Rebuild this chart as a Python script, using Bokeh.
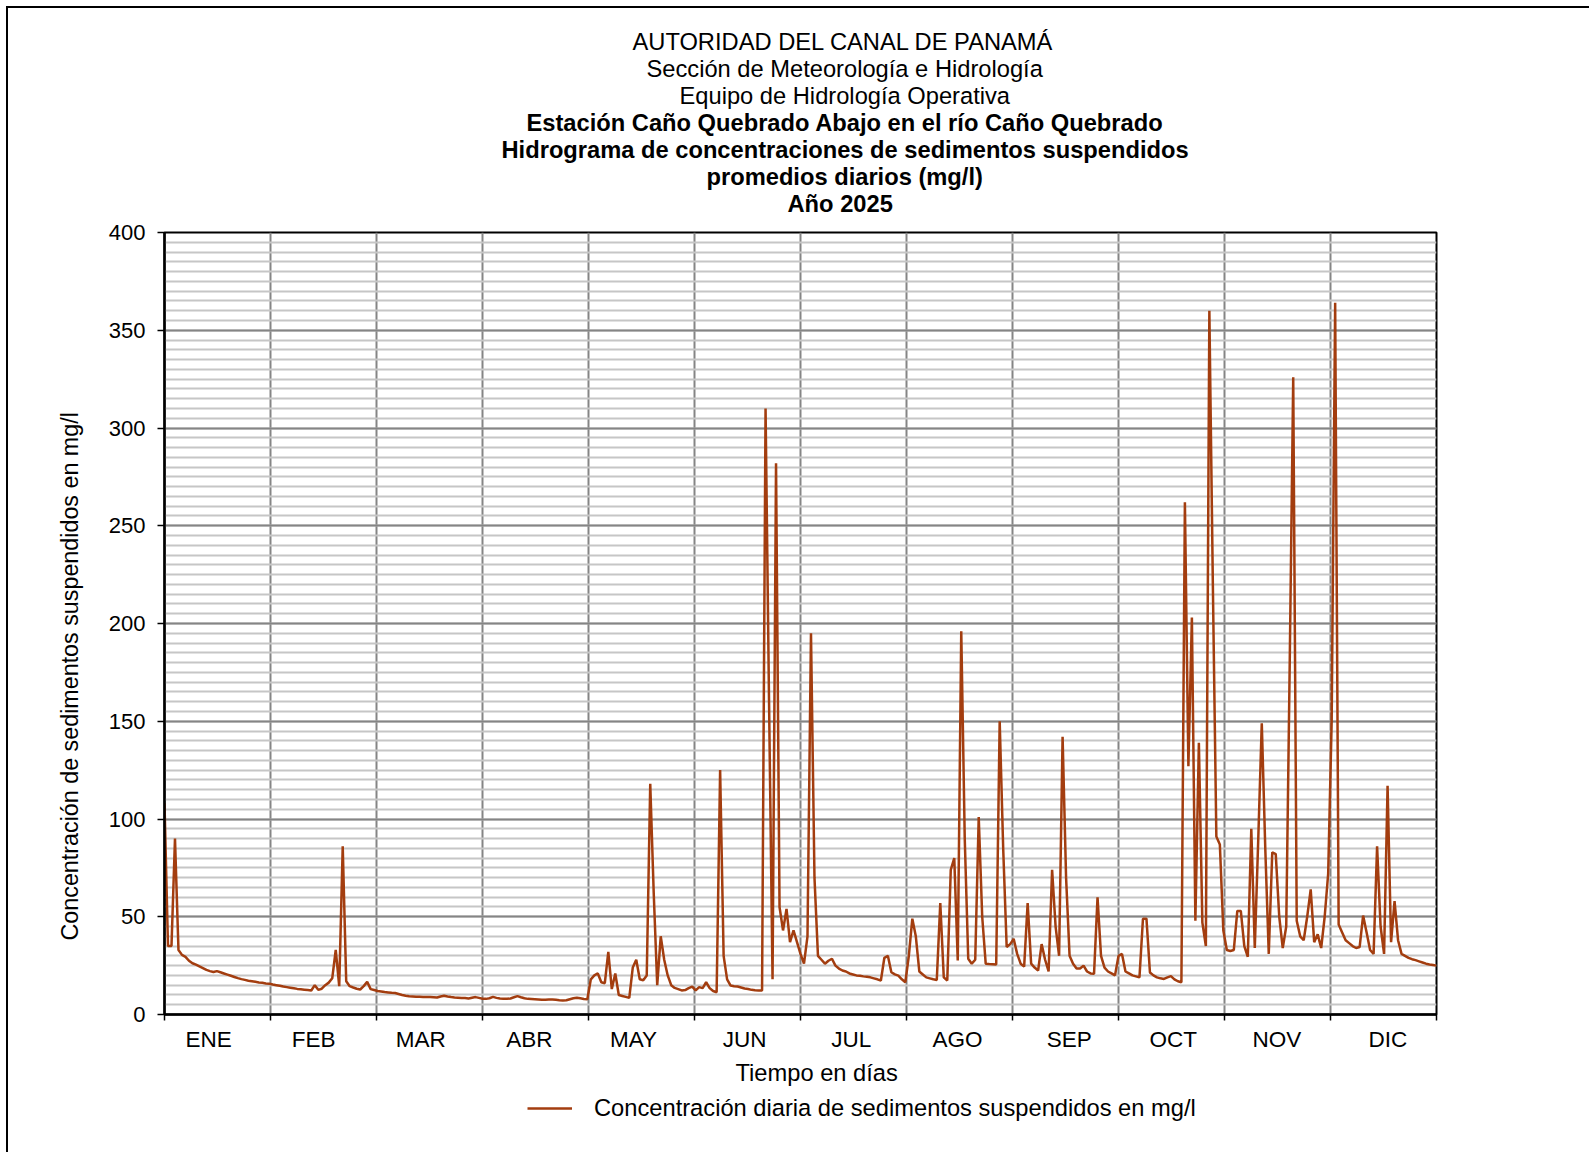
from bokeh.plotting import figure
from bokeh.models import Range1d, FixedTicker, Legend, LegendItem, Title
from bokeh.layouts import column
from bokeh.embed import file_html
from bokeh.resources import INLINE

# ---------------- data (daily suspended sediment, mg/l) ----------------
months = ["ENE", "FEB", "MAR", "ABR", "MAY", "JUN", "JUL", "AGO", "SEP", "OCT", "NOV", "DIC"]

ene = [108, 35, 35, 90, 33, 30.5, 29.5, 27.5, 26.2, 25.5, 24.6, 23.7, 22.8, 22.2, 21.7, 22.2,
       21.6, 21, 20.4, 19.8, 19.2, 18.6, 18.1, 17.7, 17.3, 17, 16.7, 16.4, 16.2, 15.9, 15.7]
feb = [15.3, 15, 14.7, 14.3, 14, 13.7, 13.4, 13.1, 12.9, 12.7, 12.5, 12.3, 15, 12.6, 13.2, 15,
       16.3, 18.5, 33, 14.5, 86, 17, 14.5, 13.8, 13.2, 12.8, 14.5, 16.7]
mar = [13, 12.5, 12, 11.8, 11.5, 11.3, 11.1, 11, 10.5, 10, 9.6, 9.3, 9.2, 9.1, 9.1, 9, 9, 8.9,
       8.8, 8.7, 9.2, 9.6, 9.2, 8.9, 8.7, 8.6, 8.5, 8.4, 8.2, 8.6, 8.9]
abr = [8.5, 8.1, 8, 8.3, 9, 8.5, 8.2, 8, 8, 8.2, 8.8, 9.4, 8.8, 8.3, 8, 7.9, 7.8, 7.7, 7.6, 7.6,
       7.7, 7.7, 7.5, 7.3, 7.2, 7.3, 7.8, 8.3, 8.6, 8.3]
may = [7.9, 7.8, 18, 20, 21, 16.5, 16, 32, 13, 21, 10, 9.5, 9, 8.5, 24, 28, 18, 17.5, 20, 118,
       62, 15, 40, 28, 20, 15, 13.6, 13, 12.3, 12.5, 13.5]
jun = [14.3, 12.3, 14, 13.5, 16.5, 13.5, 12, 11.4, 125, 30, 18, 14.8, 14.5, 14.3, 13.8, 13.3,
       13, 12.6, 12.4, 12.3, 12.3, 310, 160, 18, 282, 55, 43, 54, 37, 43]
jul = [37, 31, 26, 40, 195, 70, 30, 28, 26, 27.5, 28.5, 25, 23.5, 22.5, 22, 21, 20.5, 20, 19.8,
       19.5, 19.3, 19, 18.5, 18, 17.4, 29, 30, 21.6, 20.5, 19.9, 18]
ago = [16.5, 30, 49, 40, 22, 20.5, 19, 18.5, 18, 17.7, 57, 19, 17.4, 74, 80, 27.6, 196, 90,
       28.5, 26, 28, 101, 50, 26, 25.8, 25.7, 25.6, 150, 85, 34.5, 36]
sep = [38.7, 31, 26, 24.5, 57, 26, 24, 22.5, 36, 28, 22, 74, 45, 30, 142, 70, 30, 26, 23.5,
       23.5, 25, 22, 21, 20.8, 60, 30, 24, 22, 21, 20]
oct_ = [30, 31, 22, 21, 20, 19.5, 19, 49, 49, 21.5, 20, 19, 18.5, 18.2, 19, 19.6, 18, 17, 16.5,
        262, 127, 203, 48, 139, 47, 35, 360, 220, 91, 87, 43]
nov = [33, 32.5, 33, 53, 53, 35, 29.5, 95, 34, 90, 149, 85, 31, 83, 82, 50, 34, 45, 180, 326,
       48, 40, 38, 50, 64, 37, 41, 34, 50, 72]
dic = [150, 364, 46, 42, 38, 36.5, 35, 34, 34.5, 50.6, 42, 33, 31, 86, 45, 31, 117, 37, 58, 38,
       31, 30, 29, 28.3, 27.8, 27.2, 26.6, 26, 25.6, 25.3, 25]

y_ticks = [0, 50, 100, 150, 200, 250, 300, 350, 400]
title_lines = [
    ("AUTORIDAD DEL CANAL DE PANAMÁ", "normal", 632),
    ("Sección de Meteorología e Hidrología", "normal", 646),
    ("Equipo de Hidrología Operativa", "normal", 679),
    ("Estación Caño Quebrado Abajo en el río Caño Quebrado", "bold", 526),
    ("Hidrograma de concentraciones de sedimentos suspendidos", "bold", 501),
    ("promedios diarios (mg/l)", "bold", 706),
    ("Año  2025", "bold", 787),
]
x_title = "Tiempo en días"
y_title = "Concentración de sedimentos suspendidos en mg/l"
legend_label = "Concentración diaria de sedimentos suspendidos en mg/l"

values = ene + feb + mar + abr + may + jun + jul + ago + sep + oct_ + nov + dic
days = list(range(len(values)))

# ---------------- layout ----------------
FONT = "Liberation Sans"
TSIZE = "23.7px"
OFF = 8                      # page offset of canvas (6px margin + 2px border)
W, H = 1581, 1086
FX0, FY0 = 164, 232          # frame top-left on page
FW, FH = 1272, 782
L, T = FX0 - OFF, FY0 - OFF
R = W - L - FW
B = H - T - FH
LINE_COLOR = "#A33D0F"

n = len(values) - 1
p = figure(width=W, height=H, output_backend="svg", toolbar_location=None,
           x_range=Range1d(0, n), y_range=Range1d(0, 400),
           min_border_left=L, min_border_right=R, min_border_top=T, min_border_bottom=B,
           background_fill_color="white", border_fill_color="white")

line = p.line(days, values, line_color=LINE_COLOR, line_width=2.5)

# axes
bounds = [n * k / 12 for k in range(13)]
label_pos = [12.6, 42.7, 73.3, 104.4, 134.2, 166, 196.5, 226.9, 258.9, 288.7, 318.3, 350.1]
p.xaxis.ticker = FixedTicker(ticks=label_pos, minor_ticks=bounds)
p.xaxis.major_label_overrides = {v: m for v, m in zip(label_pos, months)}
p.xaxis.major_tick_line_color = None
p.xaxis.major_tick_out = 0
p.xaxis.major_tick_in = 0
p.xaxis.minor_tick_line_color = "black"
p.xaxis.minor_tick_line_width = 1.5
p.xaxis.minor_tick_out = 6
p.xaxis.minor_tick_in = 0
p.xaxis.major_label_standoff = 6
p.xaxis.major_label_text_font_size = "22.5px"
p.xaxis.axis_line_color = "black"
p.xaxis.axis_line_width = 2.5

p.yaxis.ticker = FixedTicker(ticks=y_ticks, minor_ticks=list(range(0, 401, 5)))
p.yaxis.major_tick_out = 7
p.yaxis.major_tick_in = 0
p.yaxis.major_tick_line_color = "black"
p.yaxis.major_tick_line_width = 1.5
p.yaxis.minor_tick_line_color = None
p.yaxis.major_label_standoff = 12
p.yaxis.major_label_text_font_size = "22px"
p.yaxis.axis_line_color = "black"
p.yaxis.axis_line_width = 2.5

for ax in (p.xaxis, p.yaxis):
    ax.major_label_text_font = FONT
    ax.major_label_text_color = "black"

# grids
p.xgrid.ticker = FixedTicker(ticks=bounds[1:-1])
p.xgrid.grid_line_color = "#858585"
p.xgrid.grid_line_width = 2
p.ygrid.grid_line_color = "#858585"
p.ygrid.grid_line_width = 2
p.ygrid.minor_grid_line_color = "#c6c6c6"
p.ygrid.minor_grid_line_width = 2

p.outline_line_color = "black"
p.outline_line_width = 2
p.outline_line_alpha = 1

# titles: later additions are stacked further from the frame
p.add_layout(Title(text=" ", text_font=FONT, text_font_size="10px", standoff=3.3), "above")
for txt, style, xleft in reversed(title_lines):
    p.add_layout(Title(text=txt, align="left", offset=xleft - FX0, text_font=FONT,
                       text_font_size=TSIZE, text_font_style=style, text_color="black",
                       standoff=-1.5), "above")

p.add_layout(Title(text=x_title, align="left", offset=735 - FX0, text_font=FONT,
                   text_font_size=TSIZE, text_font_style="normal", text_color="black",
                   standoff=6), "below")
p.add_layout(Title(text=y_title, align="left", offset=(FY0 + FH) - 940, text_font=FONT,
                   text_font_size="23.3px", text_font_style="normal", text_color="black",
                   standoff=45), "left")

# ---------------- legend strip (frame aligned with the main frame) ----------------
H2 = 58
q = figure(width=W, height=H2, output_backend="svg", toolbar_location=None,
           x_axis_type=None, y_axis_type=None, x_range=Range1d(0, 1), y_range=Range1d(0, 1),
           min_border=0, outline_line_color=None,
           background_fill_color="white", border_fill_color="white")
q.grid.visible = False
sample = q.line([0], [0], line_color=LINE_COLOR, line_width=2.5)
legend = Legend(items=[LegendItem(label=legend_label, renderers=[sample])],
                location=(527 - FX0, H2 - (1108 - (OFF + H)) - 14), orientation="horizontal",
                padding=0, margin=0, spacing=0, border_line_color=None,
                background_fill_alpha=0, glyph_width=45, glyph_height=28, label_standoff=22,
                label_text_font=FONT, label_text_font_size=TSIZE, label_text_color="black")
q.add_layout(legend, "center")

page = column(p, q, spacing=0,
              styles={"margin-left": "6px", "margin-top": "6px",
                      "border-left": "2px solid black", "border-top": "2px solid black"})

open("out.html", "w").write(file_html(page, INLINE))
